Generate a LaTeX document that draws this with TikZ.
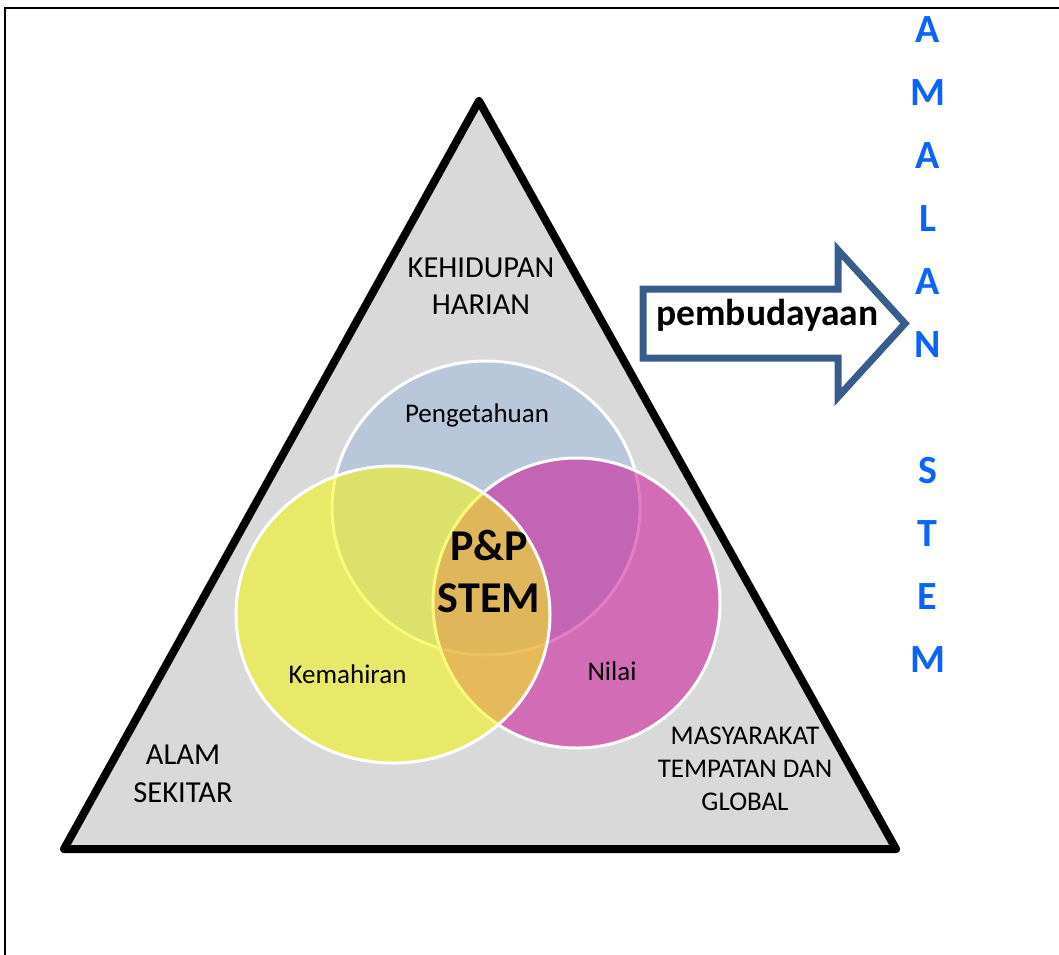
\documentclass[tikz,border=0pt]{standalone}
\usepackage{fontspec}
\setmainfont{Carlito}
\usetikzlibrary{positioning}

\definecolor{tribg}{RGB}{217,217,217}
\definecolor{pengblue}{RGB}{185,199,218}
\definecolor{nilaipink}{RGB}{204,19,152}
\definecolor{mahiryellow}{RGB}{247,247,19}
\definecolor{arrowblue}{RGB}{56,93,138}
\definecolor{amalblue}{RGB}{10,100,250}

\begin{document}
\begin{tikzpicture}[x=1pt,y=-1pt,
    ring/.style={draw=white,line width=3pt},
    lbl/.style={align=center,inner sep=0pt,font=\fontsize{30.5}{37}\selectfont},
    small/.style={anchor=base,inner sep=0pt,font=\fontsize{27}{32}\selectfont},
    letter/.style={anchor=base,inner sep=0pt,text=amalblue,font=\bfseries\fontsize{40}{48}\selectfont}]
    \useasboundingbox (0,0) rectangle (1059,954);
    \clip (0,0) rectangle (1059,954);
    % frame
    \draw[line width=2pt] (5,8) rectangle (1100,1000);

    % triangle
    \coordinate (apex) at (479,101);
    \coordinate (bleft) at (64,849);
    \coordinate (bright) at (896,849);
    \filldraw[fill=tribg,line width=8pt,line join=round] (apex) -- (bleft) -- (bright) -- cycle;
    \node[lbl] (harian) at (481,286.5) {KEHIDUPAN\\HARIAN};
    \node[lbl,font=\fontsize{30.5}{38}\selectfont] (alam) at (183,773.5) {ALAM\\SEKITAR};
    \node[lbl,font=\fontsize{27}{33}\selectfont] (global) at (745,768.5) {MASYARAKAT\\TEMPATAN DAN\\GLOBAL};

    % circles
    \filldraw[ring,fill=pengblue] (486,508) ellipse [x radius=154,y radius=147];
    \filldraw[ring,fill=nilaipink,fill opacity=0.55] (576.5,603) ellipse [x radius=143.5,y radius=145];
    \filldraw[ring,fill=mahiryellow,fill opacity=0.56] (393,614.5) ellipse [x radius=157,y radius=148.5];
    \node[small] (peng) at (477,422) {Pengetahuan};
    \node[small] (mahir) at (347.5,683) {Kemahiran};
    \node[small] (nilai) at (612,680) {Nilai};
    \node[lbl,font=\bfseries\fontsize{44}{52}\selectfont] (pnp) at (489,571) {P\&P\\STEM};

    % arrow
    \draw[line width=7pt,draw=arrowblue,fill=white] (643,289) -- (838,289) -- (838,250) -- (905,323.5)
        -- (838,397) -- (838,358) -- (643,358) -- cycle;
    \node[anchor=base,inner sep=0pt,font=\bfseries\fontsize{37.5}{44}\selectfont] (budaya) at (767.5,325) {pembudayaan};

    % AMALAN STEM
    \foreach \ch/\row in {A/0,M/1,A/2,L/3,A/4,N/5,S/7,T/8,E/9,M/10}
        \node[letter] (amalan\row) at (927.5,{42+63*\row}) {\ch};
\end{tikzpicture}
\end{document}
